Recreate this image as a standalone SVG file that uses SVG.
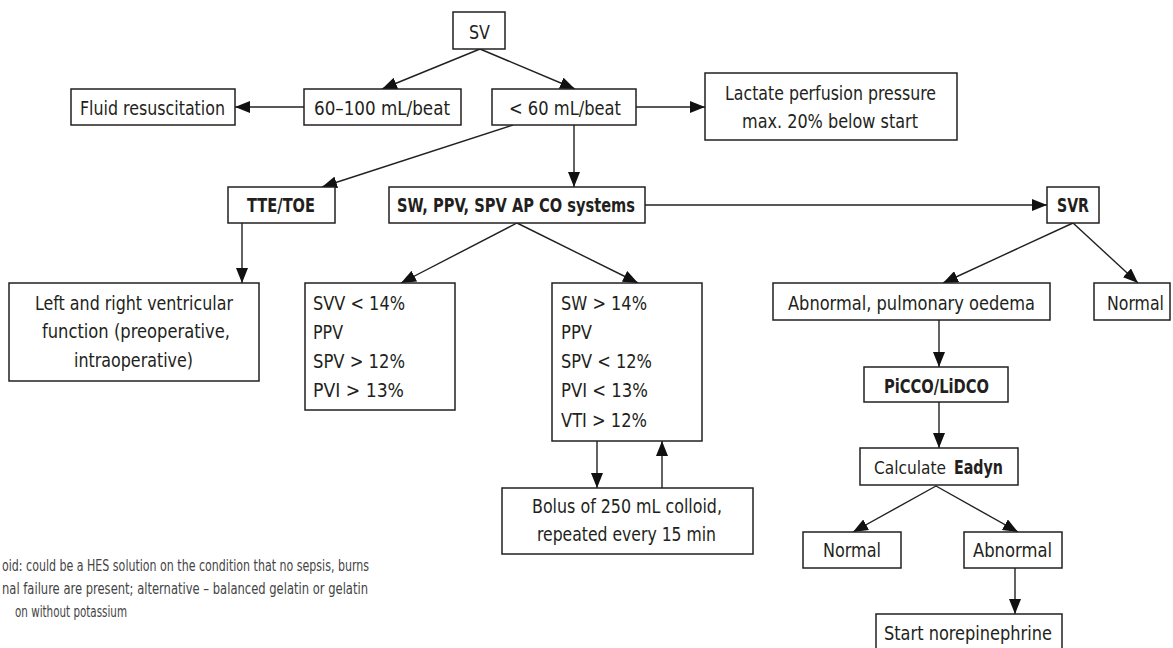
<svg xmlns="http://www.w3.org/2000/svg" width="1173" height="648" viewBox="0 0 1173 648">
<style>
.box{fill:#fff;stroke:#231f20;stroke-width:1.5}
text{font-family:"Liberation Sans Narrow","DejaVu Sans Condensed","Liberation Sans",sans-serif;font-size:20px;fill:#231f20}
.b{font-weight:bold}
.note{font-size:15px;fill:#444}
.c line{stroke:#231f20;stroke-width:1.4;marker-end:url(#ah)}
</style>
<defs>
<marker id="ah" viewBox="0 0 15 12" refX="15" refY="6" markerWidth="15" markerHeight="12" markerUnits="userSpaceOnUse" orient="auto">
<path d="M0,0 L15,6 L0,12 z" fill="#111"/>
</marker>
</defs>
<rect width="1173" height="648" fill="#fff"/>
<g class="c" id="connectors">
<line x1="480" y1="49" x2="382" y2="89"/>
<line x1="480" y1="49" x2="575" y2="89"/>
<line x1="304" y1="107" x2="235" y2="107"/>
<line x1="636" y1="107" x2="705" y2="107"/>
<line x1="513" y1="125" x2="322" y2="187"/>
<line x1="574" y1="125" x2="574" y2="187"/>
<line x1="645" y1="205" x2="1047" y2="205"/>
<line x1="242" y1="223" x2="242" y2="283"/>
<line x1="517" y1="223" x2="401" y2="283"/>
<line x1="517" y1="223" x2="638" y2="283"/>
<line x1="597" y1="441" x2="597" y2="488"/>
<line x1="662" y1="488" x2="662" y2="441"/>
<line x1="1073" y1="223" x2="943" y2="283"/>
<line x1="1073" y1="223" x2="1138" y2="283"/>
<line x1="939" y1="320" x2="939" y2="367"/>
<line x1="939" y1="402" x2="939" y2="448"/>
<line x1="936" y1="486" x2="853" y2="532"/>
<line x1="936" y1="486" x2="1018" y2="532"/>
<line x1="1015" y1="568" x2="1015" y2="614"/>
</g>
<g id="sv"><rect class="box" x="453" y="12" width="52" height="37"/><text x="469" y="39" textLength="21" lengthAdjust="spacingAndGlyphs">SV</text></g>
<g id="fluid"><rect class="box" x="71" y="89" width="164" height="36"/><text x="80" y="115" textLength="145" lengthAdjust="spacingAndGlyphs">Fluid resuscitation</text></g>
<g id="n60100"><rect class="box" x="304" y="89" width="157" height="36"/><text x="314" y="115" textLength="136" lengthAdjust="spacingAndGlyphs">60–100 mL/beat</text></g>
<g id="lt60"><rect class="box" x="492" y="89" width="144" height="36"/><text x="509" y="115" textLength="112" lengthAdjust="spacingAndGlyphs">&lt; 60 mL/beat</text></g>
<g id="lactate"><rect class="box" x="705" y="73" width="252" height="67"/>
<text x="725" y="100" textLength="211" lengthAdjust="spacingAndGlyphs">Lactate perfusion pressure</text>
<text x="742" y="128" textLength="176" lengthAdjust="spacingAndGlyphs">max. 20% below start</text></g>
<g id="tte"><rect class="box" x="228" y="187" width="107" height="36"/><text class="b" x="247" y="212" textLength="68" lengthAdjust="spacingAndGlyphs">TTE/TOE</text></g>
<g id="swppv"><rect class="box" x="389" y="187" width="256" height="36"/><text class="b" x="397" y="212" textLength="238" lengthAdjust="spacingAndGlyphs">SW, PPV, SPV AP CO systems</text></g>
<g id="svr"><rect class="box" x="1047" y="187" width="52" height="36"/><text class="b" x="1057" y="212" textLength="32" lengthAdjust="spacingAndGlyphs">SVR</text></g>
<g id="lrvf"><rect class="box" x="9" y="283" width="250" height="98"/>
<text x="35" y="310" textLength="198" lengthAdjust="spacingAndGlyphs">Left and right ventricular</text>
<text x="42" y="338" textLength="188" lengthAdjust="spacingAndGlyphs">function (preoperative,</text>
<text x="74" y="367" textLength="119" lengthAdjust="spacingAndGlyphs">intraoperative)</text></g>
<g id="svv"><rect class="box" x="305" y="283" width="150" height="127"/>
<text x="313" y="310" textLength="92" lengthAdjust="spacingAndGlyphs">SVV &lt; 14%</text>
<text x="313" y="339" textLength="30" lengthAdjust="spacingAndGlyphs">PPV</text>
<text x="313" y="368" textLength="92" lengthAdjust="spacingAndGlyphs">SPV &gt; 12%</text>
<text x="313" y="397" textLength="91" lengthAdjust="spacingAndGlyphs">PVI &gt; 13%</text></g>
<g id="sw"><rect class="box" x="552" y="283" width="150" height="158"/>
<text x="561" y="310" textLength="86" lengthAdjust="spacingAndGlyphs">SW &gt; 14%</text>
<text x="561" y="339" textLength="31" lengthAdjust="spacingAndGlyphs">PPV</text>
<text x="561" y="368" textLength="91" lengthAdjust="spacingAndGlyphs">SPV &lt; 12%</text>
<text x="561" y="397" textLength="87" lengthAdjust="spacingAndGlyphs">PVI &lt; 13%</text>
<text x="561" y="427" textLength="86" lengthAdjust="spacingAndGlyphs">VTI &gt; 12%</text></g>
<g id="bolus"><rect class="box" x="502" y="488" width="251" height="66"/>
<text x="532" y="513" textLength="190" lengthAdjust="spacingAndGlyphs">Bolus of 250 mL colloid,</text>
<text x="537" y="541" textLength="179" lengthAdjust="spacingAndGlyphs">repeated every 15 min</text></g>
<g id="abpulm"><rect class="box" x="773" y="283" width="277" height="37"/><text x="788" y="310" textLength="247" lengthAdjust="spacingAndGlyphs">Abnormal, pulmonary oedema</text></g>
<g id="normal1"><rect class="box" x="1094" y="283" width="76" height="37"/><text x="1107" y="310" textLength="57" lengthAdjust="spacingAndGlyphs">Normal</text></g>
<g id="picco"><rect class="box" x="864" y="367" width="144" height="35"/><text class="b" x="884" y="393" textLength="105" lengthAdjust="spacingAndGlyphs">PiCCO/LiDCO</text></g>
<g id="eadyn"><rect class="box" x="860" y="448" width="158" height="37"/><text x="874" y="474" style="font-size:18px" textLength="72" lengthAdjust="spacingAndGlyphs">Calculate</text><text class="b" x="954" y="474" textLength="49" lengthAdjust="spacingAndGlyphs">Eadyn</text></g>
<g id="normal2"><rect class="box" x="803" y="532" width="98" height="36"/><text x="823" y="557" textLength="58" lengthAdjust="spacingAndGlyphs">Normal</text></g>
<g id="abnormal"><rect class="box" x="964" y="532" width="98" height="36"/><text x="973" y="557" textLength="79" lengthAdjust="spacingAndGlyphs">Abnormal</text></g>
<g id="norepi"><rect class="box" x="876" y="614" width="186" height="45"/><text x="884" y="640" textLength="168" lengthAdjust="spacingAndGlyphs">Start norepinephrine</text></g>
<g id="footnote">
<text class="note" x="2" y="571" textLength="367" lengthAdjust="spacingAndGlyphs">oid: could be a HES solution on the condition that no sepsis, burns</text>
<text class="note" x="2" y="594" textLength="366" lengthAdjust="spacingAndGlyphs">nal failure are present; alternative – balanced gelatin or gelatin</text>
<text class="note" x="15" y="617" textLength="112" lengthAdjust="spacingAndGlyphs">on without potassium</text>
</g>
</svg>
